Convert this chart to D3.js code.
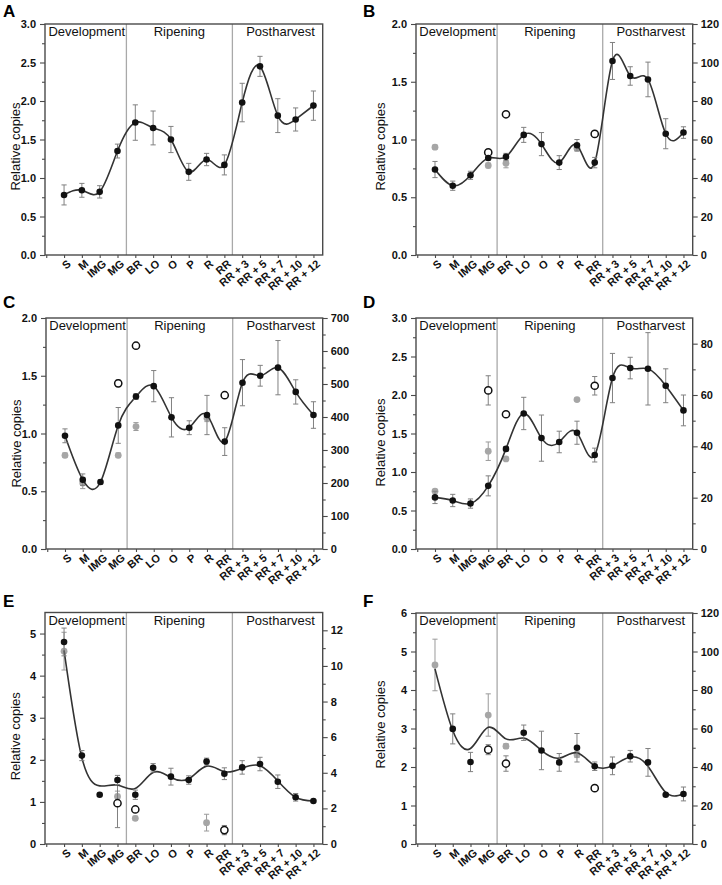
<!DOCTYPE html>
<html>
<head>
<meta charset="utf-8">
<script src="https://cdn.jsdelivr.net/npm/d3@7"></script>
<style>
  body { margin: 0; background: #fff; }
  svg { font-family: "Liberation Sans", Arial, sans-serif; }
</style>
</head>
<body>
<div id="chart"></div>
<script>
var stages = ["S", "M", "IMG", "MG", "BR", "LO", "O", "P", "R", "RR", "RR + 3", "RR + 5", "RR + 7", "RR + 10", "RR + 12"];
var sections = ["Development", "Ripening", "Postharvest"];
var dividers = [3.5, 9.45];
var _ = null;

// black series: relative copies (left axis)
var aMean = [0.78, 0.84, 0.82, 1.35, 1.72, 1.65, 1.50, 1.08, 1.24, 1.17, 1.98, 2.45, 1.81, 1.76, 1.94];
var aErr  = [0.13, 0.09, 0.08, 0.09, 0.23, 0.22, 0.17, 0.11, 0.08, 0.13, 0.25, 0.13, 0.22, 0.15, 0.19];

var bMean = [0.74, 0.60, 0.69, 0.84, 0.85, 1.04, 0.96, 0.80, 0.95, 0.80, 1.68, 1.55, 1.52, 1.05, 1.06];
var bErr  = [0.07, 0.04, 0.035, 0.02, 0.03, 0.065, 0.10, 0.06, 0.05, 0.045, 0.16, 0.08, 0.15, 0.13, 0.05];
var bGray    = [56, _, _, 46.5, 47.7, _, _, _, 55.5, _, _, _, _, _, _];
var bGrayErr = [1, _, _, 1.2, 2.4, _, _, _, 1.2, _, _, _, _, _, _];
var bOpen    = [_, _, _, 53.3, 73.1, _, _, _, _, 62.9, _, _, _, _, _];
var bOpenErr = [_, _, _, 0, 0, _, _, _, _, 0, _, _, _, _, _];

var cMean = [0.98, 0.60, 0.58, 1.07, 1.32, 1.41, 1.14, 1.05, 1.16, 0.93, 1.44, 1.50, 1.57, 1.36, 1.16];
var cErr  = [0.06, 0.05, 0.02, 0.155, 0.025, 0.135, 0.17, 0.06, 0.17, 0.12, 0.20, 0.09, 0.235, 0.105, 0.115];
var cGray    = [284, 200, _, 284, 371, _, _, _, 396, _, _, _, _, _, _];
var cGrayErr = [7, 17, _, 7, 12, _, _, _, 10, _, _, _, _, _, _];
var cOpen    = [_, _, _, 502, 616, _, _, _, _, 466, _, _, _, _, _];
var cOpenErr = [_, _, _, 10, 5, _, _, _, _, 5, _, _, _, _, _];

var dMean = [0.67, 0.63, 0.59, 0.82, 1.30, 1.76, 1.44, 1.39, 1.51, 1.22, 2.22, 2.35, 2.34, 2.12, 1.80];
var dErr  = [0.08, 0.08, 0.06, 0.13, 0.03, 0.21, 0.30, 0.14, 0.15, 0.09, 0.32, 0.14, 0.47, 0.22, 0.20];
var dGray    = [22.5, _, _, 38.1, 35.1, _, _, _, 58.2, _, _, _, _, _, _];
var dGrayErr = [0.5, _, _, 3.6, 0.5, _, _, _, 0.5, _, _, _, _, _, _];
var dOpen    = [_, _, _, 61.8, 52.5, _, _, _, _, 63.6, _, _, _, _, _];
var dOpenErr = [_, _, _, 5.7, 0.5, _, _, _, _, 3.6, _, _, _, _, _];

var eMean = [4.80, 2.10, 1.17, 1.52, 1.17, 1.81, 1.60, 1.52, 1.96, 1.67, 1.82, 1.90, 1.48, 1.11, 1.02];
var eErr  = [0.33, 0.12, 0.02, 0.11, 0.11, 0.10, 0.20, 0.10, 0.08, 0.14, 0.16, 0.16, 0.16, 0.09, 0.03];
var eGray    = [10.83, _, _, 2.67, 1.44, _, _, _, 1.2, _, _, _, _, _, _];
var eGrayErr = [1.06, _, _, 0.3, 0.12, _, _, _, 0.47, _, _, _, _, _, _];
var eOpen    = [_, _, _, 2.29, 1.94, _, _, _, _, 0.78, _, _, _, _, _];
var eOpenErr = [_, _, _, 1.37, 0.1, _, _, _, _, 0.26, _, _, _, _, _];
var eFit  = [4.60, 2.05, 1.38, 1.40, 1.32, 1.70, 1.58, 1.55, 1.85, 1.72, 1.80, 1.86, 1.50, 1.11, 1.02];

var fMean = [_, 2.99, 2.13, _, _, 2.89, 2.43, 2.12, 2.50, 2.02, 2.03, 2.28, 2.12, 1.28, 1.30];
var fErr  = [_, 0.39, 0.25, _, _, 0.20, 0.50, 0.23, 0.37, 0.11, 0.23, 0.15, 0.36, 0.03, 0.18];
var fGray    = [93, _, _, 67, 50.8, _, _, _, 46.4, _, _, _, _, _, _];
var fGrayErr = [13.4, _, _, 11, 1.2, _, _, _, 1.5, _, _, _, _, _, _];
var fOpen    = [_, _, _, 49, 41.8, _, _, _, _, 29, _, _, _, _, _];
var fOpenErr = [_, _, _, 2.6, 4, _, _, _, _, 0, _, _, _, _, _];
var fFit  = [4.55, 2.95, 2.48, 3.03, 2.73, 2.75, 2.43, 2.23, 2.37, 2.03, 2.03, 2.26, 2.02, 1.34, 1.30];

var panels = [
  { id: "A", x0: 45,  y0: 24,  w: 277.7, h: 231, yMax: 3,   yStep: 0.5, yMinor: 0.25, fmt: ".1f", labDy: 7,
    mean: aMean, err: aErr, fit: aMean },
  { id: "B", x0: 416, y0: 24,  w: 276.7, h: 231, yMax: 2,   yStep: 0.5, yMinor: 0.25, fmt: ".1f", labDy: 7,
    rMax: 120, rStep: 20, rMinor: 10, mean: bMean, err: bErr, fit: bMean,
    gray: bGray, grayErr: bGrayErr, open: bOpen, openErr: bOpenErr },
  { id: "C", x0: 46,  y0: 318, w: 276.7, h: 231, yMax: 2,   yStep: 0.5, yMinor: 0.25, fmt: ".1f", labDy: 10,
    rMax: 700, rStep: 100, rMinor: 50, mean: cMean, err: cErr, fit: cMean,
    gray: cGray, grayErr: cGrayErr, open: cOpen, openErr: cOpenErr },
  { id: "D", x0: 416, y0: 318, w: 276.7, h: 231, yMax: 3,   yStep: 0.5, yMinor: 0.25, fmt: ".1f", labDy: 9,
    rMax: 90, rStep: 20, rMinor: 10, mean: dMean, err: dErr, fit: dMean,
    gray: dGray, grayErr: dGrayErr, open: dOpen, openErr: dOpenErr },
  { id: "E", x0: 45,  y0: 612.5, w: 277.7, h: 231.5, yMax: 5.5, yStep: 1, yMinor: 0.5, fmt: "d", labDy: 8,
    rMax: 13, rStep: 2, rMinor: 1, mean: eMean, err: eErr, fit: eFit,
    gray: eGray, grayErr: eGrayErr, open: eOpen, openErr: eOpenErr },
  { id: "F", x0: 416, y0: 613, w: 276.7, h: 231, yMax: 6,   yStep: 1, yMinor: 0.5, fmt: "d", labDy: -4,
    rMax: 120, rStep: 20, rMinor: 10, mean: fMean, err: fErr, fit: fFit,
    gray: fGray, grayErr: fGrayErr, open: fOpen, openErr: fOpenErr }
];

var svg = d3.select("#chart").append("svg")
  .attr("width", 722)
  .attr("height", 885);

var axisColor = "#4a4a4a";

function ticksBetween(max, step) {
  return d3.range(0, max + 1e-9, step).map(v => +v.toFixed(4));
}

function styleAxis(g) {
  g.select(".domain").remove();
  g.selectAll(".tick line").attr("stroke", axisColor).attr("stroke-width", 1.1);
  g.selectAll(".tick text")
    .attr("fill", "#111")
    .style("font-size", "11px")
    .style("font-weight", "bold");
}

function drawErr(g, x, y, vals, errs, color) {
  vals.forEach((v, i) => {
    if (v == null || errs == null || errs[i] == null || errs[i] <= 0) return;
    var e = errs[i];
    var cx = x(i);
    g.append("line").attr("x1", cx).attr("x2", cx)
      .attr("y1", y(v - e)).attr("y2", y(v + e))
      .attr("stroke", color).attr("stroke-width", 1);
    [v - e, v + e].forEach(t => {
      g.append("line").attr("x1", cx - 2.6).attr("x2", cx + 2.6)
        .attr("y1", y(t)).attr("y2", y(t))
        .attr("stroke", color).attr("stroke-width", 1);
    });
  });
}

panels.forEach(p => {
  var g = svg.append("g").attr("transform", "translate(" + p.x0 + "," + p.y0 + ")");

  var x = d3.scaleLinear().domain([-1.07, 14.52]).range([0, p.w]);
  var y = d3.scaleLinear().domain([0, p.yMax]).range([p.h, 0]);
  var yr = p.rMax ? d3.scaleLinear().domain([0, p.rMax]).range([p.h, 0]) : null;

  // section dividers
  dividers.forEach(d => {
    g.append("line").attr("x1", x(d)).attr("x2", x(d))
      .attr("y1", 0).attr("y2", p.h)
      .attr("stroke", "#a9a9a9").attr("stroke-width", 1.3);
  });

  // section labels
  var secMid = [(x(-1.07) + x(dividers[0])) / 2 + 1, (x(dividers[0]) + x(dividers[1])) / 2, (x(dividers[1]) + x(14.52)) / 2 + 3];
  sections.forEach((s, i) => {
    g.append("text").attr("x", secMid[i]).attr("y", 12)
      .attr("text-anchor", "middle")
      .style("font-size", "13px")
      .attr("fill", "#111")
      .text(s);
  });

  // left axis
  var majors = ticksBetween(p.yMax, p.yStep);
  var minors = ticksBetween(p.yMax, p.yMinor).filter(v => majors.indexOf(v) < 0 && v < p.yMax);
  g.append("g").call(d3.axisLeft(y).tickValues(minors).tickSize(3).tickFormat(""))
    .call(styleAxis);
  g.append("g").call(d3.axisLeft(y).tickValues(majors).tickSize(5).tickPadding(4).tickFormat(d3.format(p.fmt)))
    .call(styleAxis);

  // right axis
  if (yr) {
    var rMaj = ticksBetween(p.rMax, p.rStep);
    var rMin = ticksBetween(p.rMax, p.rMinor).filter(v => rMaj.indexOf(v) < 0 && v < p.rMax);
    g.append("g").attr("transform", "translate(" + p.w + ",0)")
      .call(d3.axisRight(yr).tickValues(rMin).tickSize(3).tickFormat(""))
      .call(styleAxis);
    g.append("g").attr("transform", "translate(" + p.w + ",0)")
      .call(d3.axisRight(yr).tickValues(rMaj).tickSize(5).tickPadding(3).tickFormat(d3.format("d")))
      .call(styleAxis);
  }

  // bottom axis
  g.append("g").attr("transform", "translate(0," + p.h + ")")
    .call(d3.axisBottom(x).tickValues(d3.range(-1, 15)).tickSize(3).tickFormat(""))
    .call(styleAxis);

  stages.forEach((s, i) => {
    g.append("text")
      .attr("transform", "translate(" + (x(i) + 5) + "," + (p.h + 7) + ") rotate(-40)")
      .attr("text-anchor", "end")
      .attr("dy", "0.35em")
      .style("font-size", "11px")
      .style("font-weight", "bold")
      .attr("fill", "#111")
      .text(s);
  });

  // frame
  g.append("rect").attr("width", p.w).attr("height", p.h)
    .attr("fill", "none").attr("stroke", axisColor).attr("stroke-width", 1.4);

  // y label
  g.append("text")
    .attr("transform", "translate(" + (p.x0 < 200 ? -30 : -36) + "," + (p.h / 2 + p.labDy) + ") rotate(-90)")
    .attr("text-anchor", "middle")
    .attr("dy", "0.35em")
    .style("font-size", "13px")
    .attr("fill", "#111")
    .text("Relative copies");

  // panel letter
  svg.append("text")
    .attr("x", p.x0 < 200 ? 3 : 363)
    .attr("y", p.y0 < 100 ? 17 : (p.y0 < 500 ? 308 : 607))
    .style("font-size", "17px")
    .style("font-weight", "bold")
    .attr("fill", "#000")
    .text(p.id);

  // gray series (right axis)
  if (p.gray) {
    drawErr(g, x, yr, p.gray, p.grayErr, "#9a9a9a");
    g.selectAll(".gray").data(p.gray.map((v, i) => ({ v: v, i: i })).filter(d => d.v != null))
      .enter().append("circle")
      .attr("cx", d => x(d.i)).attr("cy", d => yr(d.v)).attr("r", 3.4)
      .attr("fill", "#a6a6a6");
  }

  // open series (right axis)
  if (p.open) {
    drawErr(g, x, yr, p.open, p.openErr, "#808080");
    g.selectAll(".open").data(p.open.map((v, i) => ({ v: v, i: i })).filter(d => d.v != null))
      .enter().append("circle")
      .attr("cx", d => x(d.i)).attr("cy", d => yr(d.v)).attr("r", 3.6)
      .attr("fill", "#fff").attr("stroke", "#111").attr("stroke-width", 1.5);
  }

  // fitted curve
  var line = d3.line()
    .x((d, i) => x(i))
    .y(d => y(d))
    .curve(d3.curveNatural);
  g.append("path").attr("d", line(p.fit))
    .attr("fill", "none").attr("stroke", "#333").attr("stroke-width", 1.6);

  // black series
  drawErr(g, x, y, p.mean, p.err, "#808080");
  g.selectAll(".blk").data(p.mean.map((v, i) => ({ v: v, i: i })).filter(d => d.v != null))
    .enter().append("circle")
    .attr("cx", d => x(d.i)).attr("cy", d => y(d.v)).attr("r", 3.3)
    .attr("fill", "#111");
});
</script>
</body>
</html>
